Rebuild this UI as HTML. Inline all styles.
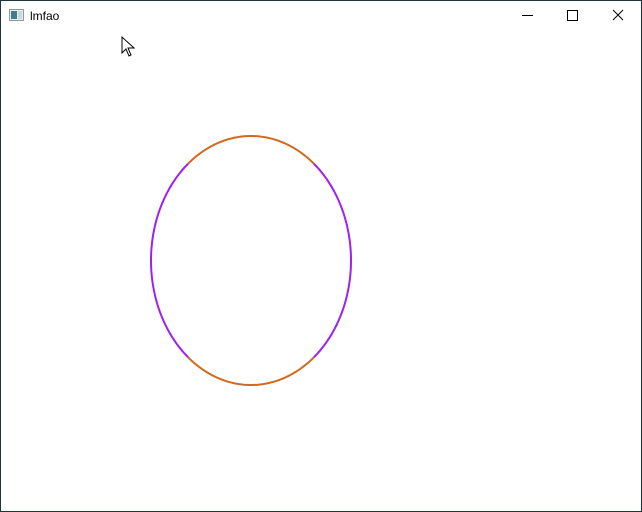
<!DOCTYPE html>
<html><head><meta charset="utf-8"><style>
html,body{margin:0;padding:0;background:#fff;}
#win{position:relative;width:640px;height:510px;border:1px solid #1f3340;background:#fff;overflow:hidden;font-family:"Liberation Sans",sans-serif;}
</style></head><body>
<div id="win">
<svg width="640" height="510" style="position:absolute;left:-1px;top:-1px">
  <g>
    <rect x="9.5" y="9.5" width="14" height="11" fill="#e8eef0" stroke="#8a9aa0"/>
    <rect x="11" y="11" width="6" height="8" fill="#3f7d8a"/>
    <rect x="18" y="11" width="4" height="8" fill="#c8d8dc"/>
  </g>
  <text x="30" y="20" font-size="12" fill="#000" font-family="Liberation Sans, sans-serif">lmfao</text>
  <line x1="522" y1="15.5" x2="533" y2="15.5" stroke="#000"/>
  <rect x="567.5" y="10.5" width="10" height="10" fill="none" stroke="#000"/>
  <path d="M613 10 L623 20 M623 10 L613 20" stroke="#000"/>
  <path d="M122 37 L122 53 L126 49 L129 56 L131 55 L128 48 L134 48 Z" fill="#fff" stroke="#000"/>
  <g id="ell"></g>
</svg>
</div>
<script>
const cx=251, cy=260.5, rx=100, ry=124.5, split=51;
const g=document.getElementById('ell');
function pt(a){const r=a*Math.PI/180;return [cx+rx*Math.cos(r), cy-ry*Math.sin(r)];}
function arc(a0,a1,col,name){
  let d='';
  for(let a=a0;a<=a1+0.001;a+=1){const p=pt(a);d+=(d?'L':'M')+p[0].toFixed(2)+' '+p[1].toFixed(2);}
  const el=document.createElementNS('http://www.w3.org/2000/svg','path');
  el.setAttribute('d',d);el.setAttribute('fill','none');el.setAttribute('stroke',col);el.setAttribute('stroke-width','2');
  
  
  g.appendChild(el);
}
arc(split,180-split,'#d2691e','top-arc');
arc(180+split,360-split,'#d2691e','bottom-arc');
arc(-split,split,'#a020f0','right-arc');
arc(180-split,180+split,'#a020f0','left-arc');
</script>
</body></html>
